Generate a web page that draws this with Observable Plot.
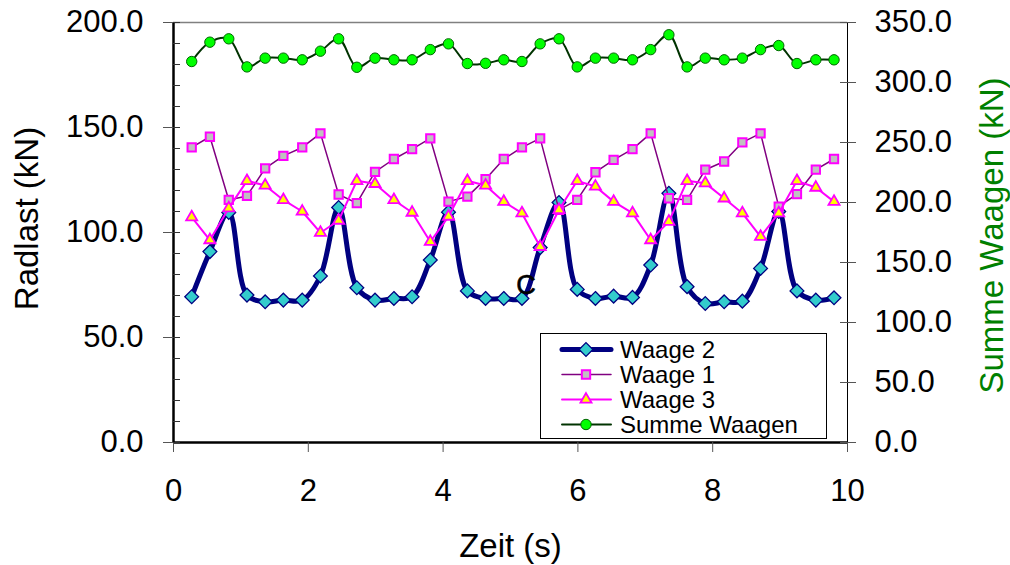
<!DOCTYPE html>
<html><head><meta charset="utf-8">
<script src="https://cdn.jsdelivr.net/npm/d3@7"></script>
<script src="https://cdn.jsdelivr.net/npm/@observablehq/plot@0.6"></script>
<style>
html,body{margin:0;padding:0;background:#fff;}
#chart{position:relative;width:1010px;height:565px;}
#legend{position:absolute;left:0;top:0;pointer-events:none;}
</style></head><body><div id="chart"></div>
<script>
// ---- data ----
const zeit = [0.27,0.54,0.82,1.09,1.36,1.63,1.91,2.18,2.45,2.72,2.99,3.27,3.54,3.81,4.08,4.36,4.63,4.90,5.17,5.44,5.72,5.99,6.26,6.53,6.81,7.08,7.35,7.62,7.89,8.17,8.44,8.71,8.98,9.25,9.53,9.80];
const waage2 = [69.4,90.9,109.5,70.2,67.0,67.8,67.8,79.3,111.9,73.7,67.8,68.6,69.4,86.9,109.7,72.2,68.6,68.6,68.6,92.8,114.3,72.9,68.6,69.7,69.1,84.5,118.7,74.2,66.2,67.0,67.3,82.9,110.0,72.2,67.8,68.9];
const waage1 = [140.5,145.6,115.5,117.4,130.5,136.5,140.5,147.2,118.1,114.0,128.9,135.0,139.7,144.8,114.7,117.1,125.4,135.0,140.5,144.8,110.8,115.5,128.7,134.6,139.7,147.2,116.3,115.5,129.9,133.8,142.9,147.2,112.3,118.3,129.9,135.0];
const waage3 = [107.3,96.4,111.6,124.6,122.4,115.5,110.0,99.9,105.7,124.6,123.2,115.5,109.5,95.6,107.6,124.6,122.4,114.7,109.2,93.2,110.8,124.6,121.9,114.7,109.2,96.4,105.2,124.6,123.5,116.3,109.2,98.0,109.2,124.6,121.4,114.7];
const summe = [317.5,333.6,336.4,313.0,320.3,320.3,318.9,326.1,336.4,312.7,320.3,318.9,318.9,327.4,332.2,315.8,316.0,318.9,317.5,332.2,336.4,313.0,320.3,320.3,318.9,327.4,339.8,313.0,320.3,318.9,320.3,327.4,330.8,315.8,318.9,318.9];

const seriesNames = ["Waage 2","Waage 1","Waage 3","Summe Waagen"];
const xTicks = [0,2,4,6,8,10];
const yTicks = [0,50,100,150,200];
const yMinor = [0,10,20,30,40,50,60,70,80,90,100,110,120,130,140,150,160,170,180,190,200];
const rightTicks = [0,50,100,150,200,250,300,350];
const xDomain = [0,10];
const yDomain = [0,200];
const rightDomain = [0,350];
const leftTitle = "Radlast (kN)";
const rightTitle = "Summe Waagen (kN)";
const xTitle = "Zeit (s)";
const annotText = ["C"];
const annotX = [5.23];
const annotY = [75.0];

// ---- build ----
const k = yDomain[1] / rightDomain[1];
const rows = zeit.map((t, i) => ({t, w1: waage1[i], w2: waage2[i], w3: waage3[i], s: summe[i] * k}));
const annot = annotText.map((label, i) => ({label, x: annotX[i], y: annotY[i]}));
const FONT = "'Liberation Sans', Arial, sans-serif";

const C2 = {line: "#000080", fill: "#33CCCC"};
const C1 = {line: "#800080", fill: "#C0C0C0", stroke: "#FF00FF"};
const C3 = {line: "#FF00FF", fill: "#FFFF00", stroke: "#FF00FF"};
const CS = {line: "#003300", fill: "#00FF00", stroke: "#006600"};

const plot = Plot.plot({
  width: 1010, height: 565,
  marginLeft: 173, marginRight: 163, marginTop: 22, marginBottom: 123,
  style: {fontFamily: FONT, background: "white", overflow: "visible", color: "black"},
  x: {domain: xDomain, label: null},
  y: {domain: yDomain, label: null},
  marks: [
    Plot.ruleY([yDomain[1]], {stroke: "#808080", strokeWidth: 1.5}),
    Plot.ruleX([xDomain[1]], {stroke: "black", strokeWidth: 1}),
    Plot.ruleX([xDomain[0]], {stroke: "black", strokeWidth: 2.5}),
    Plot.ruleY([yDomain[0]], {stroke: "black", strokeWidth: 2.5}),
    Plot.axisX({ticks: xTicks, tickSize: 10, tickPadding: 26, fontSize: 31, tickFormat: d => String(d), label: null, stroke: "#555", fill: "black"}),
    Plot.axisY({ticks: yTicks, tickSize: 10, tickPadding: 20, fontSize: 31, tickFormat: d => d.toFixed(1), label: null, stroke: "#555", fill: "black"}),
    Plot.axisY({ticks: yMinor, tickSize: 7, dx: 7, tickFormat: () => "", label: null, stroke: "#333"}),
    Plot.axisY({anchor: "right", ticks: rightTicks.map(v => v * k), tickSize: 16, dx: -8, tickPadding: 19, fontSize: 31, tickFormat: d => (d / k).toFixed(1), label: null, stroke: "#555", fill: "black"}),
    // Waage 2
    Plot.line(rows, {x: "t", y: "w2", stroke: C2.line, strokeWidth: 5, curve: "catmull-rom"}),
    Plot.dot(rows, {x: "t", y: "w2", symbol: "diamond2", r: 6.2, fill: C2.fill, stroke: C2.line, strokeWidth: 1.3}),
    // Waage 1
    Plot.line(rows, {x: "t", y: "w1", stroke: C1.line, strokeWidth: 1.5}),
    Plot.dot(rows, {x: "t", y: "w1", symbol: "square2", r: 5.3, fill: C1.fill, stroke: C1.stroke, strokeWidth: 2}),
    // Waage 3
    Plot.line(rows, {x: "t", y: "w3", stroke: C3.line, strokeWidth: 2}),
    Plot.dot(rows, {x: "t", y: "w3", symbol: "triangle2", r: 5.3, fill: C3.fill, stroke: C3.stroke, strokeWidth: 1.8}),
    // Summe
    Plot.line(rows, {x: "t", y: "s", stroke: CS.line, strokeWidth: 2, curve: "catmull-rom"}),
    Plot.dot(rows, {x: "t", y: "s", r: 5.2, fill: CS.fill, stroke: CS.stroke, strokeWidth: 1}),
    // annotation
    Plot.text(annot, {x: "x", y: "y", text: "label", fontSize: 27, fill: "black", stroke: "black", strokeWidth: 0.6}),
    // titles
    Plot.text([leftTitle], {frameAnchor: "left", textAnchor: "middle", lineAnchor: "middle", dx: -146, dy: -14, rotate: -90, fontSize: 33, fill: "black"}),
    Plot.text([rightTitle], {frameAnchor: "right", textAnchor: "middle", lineAnchor: "middle", dx: 145, dy: 3, rotate: -90, fontSize: 33, fill: "#008000"}),
    Plot.text([xTitle], {frameAnchor: "bottom", textAnchor: "middle", lineAnchor: "middle", dy: 104, fontSize: 33, fill: "black"})
  ]
});
const chart = document.getElementById("chart");
chart.appendChild(plot);

// ---- legend overlay ----
const lg = d3.select(chart).append("svg").attr("id", "legend")
  .attr("width", 1010).attr("height", 565)
  .style("font-family", FONT);
const box = {x: 540, y: 333, w: 286, h: 105};
lg.append("rect").attr("x", box.x + 0.5).attr("y", box.y + 0.5).attr("width", box.w).attr("height", box.h)
  .attr("fill", "white").attr("stroke", "black").attr("stroke-width", 1);
const legendItems = [
  {name: seriesNames[0], line: C2.line, lw: 5, sym: d3.symbolDiamond2, size: Math.PI * 6.2 * 6.2, fill: C2.fill, stroke: C2.line, sw: 1.3},
  {name: seriesNames[1], line: C1.line, lw: 1.5, sym: d3.symbolSquare2, size: Math.PI * 5.3 * 5.3, fill: C1.fill, stroke: C1.stroke, sw: 2},
  {name: seriesNames[2], line: C3.line, lw: 2, sym: d3.symbolTriangle2, size: Math.PI * 5.3 * 5.3, fill: C3.fill, stroke: C3.stroke, sw: 1.8},
  {name: seriesNames[3], line: CS.line, lw: 2, sym: d3.symbolCircle, size: Math.PI * 5.2 * 5.2, fill: CS.fill, stroke: CS.stroke, sw: 1}
];
legendItems.forEach((it, i) => {
  const cy = 349.5 + i * 25;
  const g = lg.append("g");
  g.append("line").attr("x1", 562).attr("x2", 611).attr("y1", cy).attr("y2", cy)
    .attr("stroke", it.line).attr("stroke-width", it.lw).attr("stroke-linecap", "round");
  g.append("path").attr("d", d3.symbol(it.sym, it.size)()).attr("transform", `translate(586,${cy})`)
    .attr("fill", it.fill).attr("stroke", it.stroke).attr("stroke-width", it.sw);
  g.append("text").attr("x", 620).attr("y", cy).attr("dy", "0.35em")
    .attr("font-size", 24).attr("fill", "black").text(it.name);
});
</script>
</body></html>
